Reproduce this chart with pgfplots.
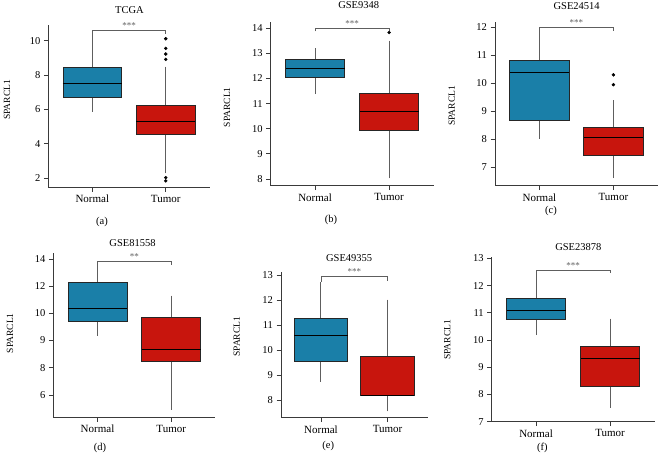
\documentclass[border=0pt]{standalone}
\usepackage{fontspec}
\setmainfont{Liberation Serif}
\usepackage{pgfplots}
\pgfplotsset{compat=1.18}
\usepgfplotslibrary{statistics}

\definecolor{normalc}{HTML}{1A7FA8}
\definecolor{tumorc}{HTML}{C8150D}
\definecolor{axisc}{HTML}{3A3A3A}
\definecolor{whiskc}{HTML}{5E5E5E}

\pgfplotsset{
 panel/.style={
  scale only axis, clip=false,
  axis x line=bottom, axis y line=left,
  axis line style={-, draw=axisc, line width=0.8pt},
  tick align=outside, major tick length=4.5pt,
  every tick/.style={draw=axisc, line width=0.8pt},
  xmin=-0.6, xmax=1.6, xtick={0,1}, xticklabels={Normal,Tumor},
  /pgf/number format/assume math mode=true,
  yticklabel style={font=\fontsize{10.5}{12}\selectfont},
  xticklabel style={font=\fontsize{11}{13}\selectfont},
  boxplot/draw direction=y,
  boxplot/box extend=0.8,
  boxplot/whisker extend=0,
  boxplot/every whisker/.style={draw=whiskc, line width=1pt},
  boxplot/every box/.style={draw=black!85, line width=0.9pt},
  boxplot/every median/.style={draw=black, line width=1pt},
 },
 nbox/.style={fill=normalc, draw=black, mark=none},
 tbox/.style={fill=tumorc, draw=black, mark=*, mark size=1.5pt,
   mark options={draw=black, fill=black}},
}
\tikzset{
 stars/.style={anchor=base, inner sep=0pt, text=whiskc, yshift=2pt,
   font=\fontsize{9}{10}\selectfont},
 bracket/.style={draw=whiskc, line width=0.8pt},
}

\begin{document}
\begin{tikzpicture}
\path[use as bounding box] (0,0) rectangle (659pt,460pt);

% (a) TCGA
\begin{axis}[panel, at={(48.3pt,272.7pt)}, anchor=south west,
  width=161.5pt, height=162.3pt, ymin=1.46, ymax=10.91, ytick={2,4,6,8,10}]
\addplot[nbox, boxplot prepared={lower whisker=5.86, lower quartile=6.70,
  median=7.52, upper quartile=8.43, upper whisker=10.33, draw position=0}]
  coordinates {};
\addplot[tbox, boxplot prepared={lower whisker=2.27, lower quartile=4.52,
  median=5.30, upper quartile=6.25, upper whisker=8.48, draw position=1}]
  table[row sep=\\, y index=0] {v\\ 10.11\\ 9.55\\ 9.22\\ 8.91\\ 2.02\\ 1.83\\};
\draw[bracket] (axis cs:0,10.33) -- (axis cs:0,10.58) -- (axis cs:1,10.58) -- (axis cs:1,10.37);
\node[stars] at (axis cs:0.5,10.58) {***};
\end{axis}

% (b) GSE9348
\begin{axis}[panel, at={(270.7pt,274.3pt)}, anchor=south west,
  width=162.8pt, height=164pt, ymin=7.73, ymax=14.26, ytick={8,9,10,11,12,13,14}]
\addplot[nbox, boxplot prepared={lower whisker=11.38, lower quartile=12.05,
  median=12.41, upper quartile=12.74, upper whisker=13.20, draw position=0}]
  coordinates {};
\addplot[tbox, boxplot prepared={lower whisker=8.02, lower quartile=9.92,
  median=10.70, upper quartile=11.41, upper whisker=13.51, draw position=1}]
  table[row sep=\\, y index=0] {v\\ 13.83\\};
\draw[bracket] (axis cs:0,13.87) -- (axis cs:0,14.0) -- (axis cs:1,14.0) -- (axis cs:1,13.87);
\node[stars] at (axis cs:0.5,14.0) {***};
\end{axis}

% (c) GSE24514
\begin{axis}[panel, at={(495pt,274.3pt)}, anchor=south west,
  width=162.8pt, height=164pt, ymin=6.34, ymax=12.2, ytick={7,8,9,10,11,12}]
\addplot[nbox, boxplot prepared={lower whisker=8.01, lower quartile=8.66,
  median=10.39, upper quartile=10.81, upper whisker=11.84, draw position=0}]
  coordinates {};
\addplot[tbox, boxplot prepared={lower whisker=6.61, lower quartile=7.43,
  median=8.07, upper quartile=8.42, upper whisker=9.40, draw position=1}]
  table[row sep=\\, y index=0] {v\\ 10.30\\ 9.95\\};
\draw[bracket] (axis cs:0,11.84) -- (axis cs:0,12.0) -- (axis cs:1,12.0) -- (axis cs:1,11.86);
\node[stars] at (axis cs:0.5,12.0) {***};
\end{axis}

% (d) GSE81558 (tick labels as printed, evenly spaced)
\begin{axis}[panel, at={(53.3pt,42.7pt)}, anchor=south west,
  width=162.1pt, height=164.6pt, ymin=4.36, ymax=16.46,
  ytick={6,8,10,12,14,16}, yticklabels={6,8,9,10,12,14}]
\addplot[nbox, boxplot prepared={lower whisker=10.36, lower quartile=11.39,
  median=12.35, upper quartile=14.29, upper whisker=15.43, draw position=0}]
  coordinates {};
\addplot[tbox, boxplot prepared={lower whisker=4.90, lower quartile=8.45,
  median=9.38, upper quartile=11.71, upper whisker=13.30, draw position=1}]
  coordinates {};
\draw[bracket] (axis cs:0,15.43) -- (axis cs:0,15.8) -- (axis cs:1,15.8) -- (axis cs:1,15.56);
\node[stars] at (axis cs:0.5,15.8) {**};
\end{axis}

% (e) GSE49355
\begin{axis}[panel, at={(281pt,42.3pt)}, anchor=south west,
  width=146.5pt, height=146pt, ymin=7.29, ymax=13.15, ytick={8,9,10,11,12,13}]
\addplot[nbox, boxplot prepared={lower whisker=8.74, lower quartile=9.53,
  median=10.59, upper quartile=11.26, upper whisker=12.74, draw position=0}]
  coordinates {};
\addplot[tbox, boxplot prepared={lower whisker=7.54, lower quartile=8.17,
  median=8.17, upper quartile=9.76, upper whisker=12.03, draw position=1}]
  coordinates {};
\draw[bracket] (axis cs:0,12.74) -- (axis cs:0,12.97) -- (axis cs:1,12.97) -- (axis cs:1,12.79);
\node[stars] at (axis cs:0.5,12.97) {***};
\end{axis}

% (f) GSE23878
\begin{axis}[panel, at={(491.7pt,38.3pt)}, anchor=south west,
  width=162.8pt, height=165pt, ymin=7, ymax=13.06, ytick={7,8,9,10,11,12,13}]
\addplot[nbox, boxplot prepared={lower whisker=10.18, lower quartile=10.77,
  median=11.07, upper quartile=11.51, upper whisker=12.45, draw position=0}]
  coordinates {};
\addplot[tbox, boxplot prepared={lower whisker=7.51, lower quartile=8.31,
  median=9.31, upper quartile=9.77, upper whisker=10.79, draw position=1}]
  coordinates {};
\draw[bracket] (axis cs:0,12.45) -- (axis cs:0,12.55) -- (axis cs:1,12.55) -- (axis cs:1,12.45);
\node[stars] at (axis cs:0.5,12.55) {***};
\end{axis}

% titles
\begin{scope}[every node/.style={font=\fontsize{10.5}{12}\selectfont, inner sep=0pt}]
\node at (129.5pt,450pt) {TCGA};
\node at (358.7pt,455pt) {GSE9348};
\node at (576.7pt,454pt) {GSE24514};
\node at (132.5pt,217.3pt) {GSE81558};
\node at (349.2pt,201.7pt) {GSE49355};
\node at (578.3pt,213.3pt) {GSE23878};
\end{scope}

% y labels
\begin{scope}[every node/.style={font=\fontsize{9.5}{11}\selectfont, inner sep=0pt, rotate=90}]
\node at (7pt,360pt) {SPARCL1};
\node at (227pt,352.7pt) {SPARCL1};
\node at (451.7pt,354pt) {SPARCL1};
\node at (10pt,126.7pt) {SPARCL1};
\node at (236.7pt,123.3pt) {SPARCL1};
\node at (447.3pt,120pt) {SPARCL1};
\end{scope}

% panel letters
\begin{scope}[every node/.style={font=\fontsize{10.5}{12}\selectfont, inner sep=0pt}]
\node at (102pt,238.3pt) {(a)};
\node at (331pt,240pt) {(b)};
\node at (551pt,249.3pt) {(c)};
\node at (100pt,11.7pt) {(d)};
\node at (328.3pt,14pt) {(e)};
\node at (542.3pt,11.7pt) {(f)};
\end{scope}
\end{tikzpicture}
\end{document}
